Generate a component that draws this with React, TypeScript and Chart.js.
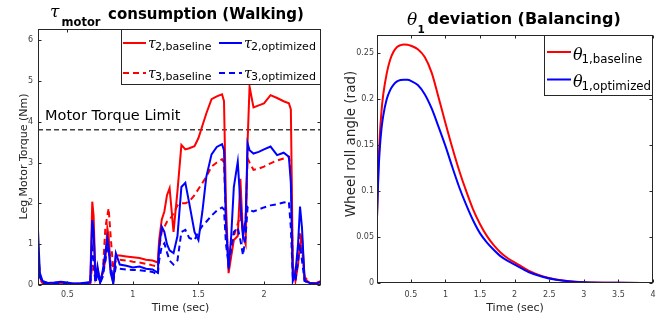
import React, { useEffect, useRef } from "react";
import { Chart, registerables } from "chart.js";

Chart.register(...registerables);

// ---------- Walking: leg motor torque ----------
const walkTimes = [
  0.276, 0.29, 0.31, 0.35, 0.4, 0.45, 0.5, 0.55, 0.6, 0.65,
  0.675, 0.69, 0.7, 0.715, 0.73, 0.75, 0.77, 0.79, 0.805, 0.815,
  0.83, 0.85, 0.87, 0.9, 0.95, 1.0, 1.05, 1.1, 1.15, 1.19,
  1.2, 1.22, 1.24, 1.26, 1.28, 1.31, 1.34, 1.37, 1.4, 1.43,
  1.47, 1.5, 1.53, 1.56, 1.6, 1.64, 1.68, 1.695, 1.71, 1.73,
  1.75, 1.77, 1.8, 1.82, 1.84, 1.86, 1.875, 1.89, 1.92, 1.96,
  2.0, 2.05, 2.1, 2.15, 2.19, 2.205, 2.22, 2.24, 2.26, 2.275,
  2.29, 2.31, 2.35, 2.4, 2.435,
];
const tau2Baseline = [
  0.82, 0.2, 0.08, 0.05, 0.05, 0.06, 0.04, 0.03, 0.03, 0.05,
  0.08, 2.04, 1.7, 0.2, 0.4, 0.1, 0.3, 0.6, 1.39, 1.2,
  0.4, 0.05, 0.72, 0.72, 0.7, 0.68, 0.66, 0.62, 0.6, 0.55,
  1.1, 1.6, 1.8, 2.2, 2.37, 1.3, 2.3, 3.43, 3.32, 3.35,
  3.4, 3.6, 3.9, 4.2, 4.55, 4.62, 4.67, 4.5, 2.0, 0.29,
  0.7, 1.1, 1.2, 2.6, 1.2, 1.0, 3.5, 4.86, 4.35, 4.4,
  4.45, 4.65, 4.58, 4.5, 4.45, 4.3, 0.5, 0.1, 0.5, 1.0,
  1.18, 0.15, 0.05, 0.05, 0.1,
];
const tau2Optimized = [
  1.35, 0.3, 0.1, 0.05, 0.06, 0.08, 0.06, 0.03, 0.04, 0.06,
  0.06, 1.59, 1.3, 0.1, 0.45, 0.05, 0.35, 0.8, 1.14, 0.9,
  0.3, 0.05, 0.78, 0.5, 0.47, 0.43, 0.45, 0.4, 0.38, 0.3,
  0.9, 1.43, 1.3, 1.0, 0.85, 0.78, 1.2, 2.4, 2.5, 2.0,
  1.3, 1.1, 1.8, 2.65, 3.2, 3.38, 3.45, 3.3, 1.5, 0.4,
  1.2, 2.4, 3.02, 2.0, 1.18, 1.6, 3.47, 3.3, 3.22, 3.26,
  3.32, 3.39, 3.18, 3.24, 3.14, 2.5, 0.1, 0.3, 1.0, 1.92,
  1.4, 0.1, 0.05, 0.03, 0.08,
];
const tau3Baseline = [
  0.6, 0.15, 0.05, 0.03, 0.03, 0.03, 0.03, 0.03, 0.03, 0.03,
  0.05, 0.5, 0.4, 0.1, 0.3, 0.1, 0.3, 1.4, 1.7, 1.88,
  1.2, 0.4, 0.6, 0.62, 0.6, 0.57, 0.55, 0.52, 0.48, 0.45,
  0.9, 1.3, 1.42, 1.55, 1.6, 1.75, 1.95, 2.0, 2.0, 2.05,
  2.2, 2.35, 2.5, 2.65, 2.9, 3.0, 3.08, 3.0, 1.5, 0.6,
  0.8, 1.2, 1.5, 1.7, 1.3, 1.6, 3.1, 3.0, 2.82, 2.85,
  2.9, 2.98, 3.05, 3.1, 3.14, 2.9, 0.4, 0.2, 0.8, 1.3,
  0.9, 0.2, 0.05, 0.03, 0.05,
];
const tau3Optimized = [
  1.0, 0.2, 0.05, 0.03, 0.03, 0.03, 0.03, 0.03, 0.03, 0.03,
  0.03, 0.9, 0.7, 0.05, 0.3, 0.05, 0.2, 0.6, 0.9, 0.94,
  0.5, 0.1, 0.45, 0.4, 0.38, 0.37, 0.36, 0.34, 0.32, 0.25,
  0.6, 0.95, 1.02, 0.8, 0.6, 0.5, 0.6, 1.3, 1.35, 1.15,
  1.1, 1.3, 1.45, 1.55, 1.7, 1.82, 1.9, 1.85, 1.0, 0.5,
  0.9, 1.3, 1.4, 1.1, 0.73, 1.2, 1.9, 1.84, 1.8, 1.85,
  1.9, 1.95, 1.98, 2.02, 2.04, 1.4, 0.2, 0.1, 0.6, 1.0,
  0.6, 0.1, 0.03, 0.02, 0.04,
];
const motorTorqueLimit = 3.8;
const walkXRange = [0.276, 2.435];
const walkYRange = [0, 6.27];
const walkXTicks = [0.5, 1, 1.5, 2];
const walkYTicks = [0, 1, 2, 3, 4, 5, 6];

// ---------- Balancing: wheel roll angle ----------
const balTimes = [
  0.01, 0.03, 0.05, 0.075, 0.1, 0.15, 0.2, 0.25, 0.3, 0.35,
  0.4, 0.45, 0.5, 0.6, 0.7, 0.8, 0.9, 1.0, 1.1, 1.2,
  1.3, 1.4, 1.5, 1.6, 1.7, 1.8, 1.9, 2.0, 2.2, 2.4,
  2.6, 2.8, 3.0, 3.5, 4.0,
];
const theta1Baseline = [
  0.072, 0.125, 0.16, 0.187, 0.205, 0.228, 0.243, 0.252, 0.257, 0.259,
  0.2597, 0.2595, 0.2583, 0.2545, 0.246, 0.229, 0.202, 0.174, 0.147, 0.122,
  0.1, 0.08, 0.064, 0.051, 0.041, 0.033, 0.027, 0.0225, 0.0135, 0.0075,
  0.0038, 0.0018, 0.0009, 0.0002, 0.0,
];
const theta1Optimized = [
  0.072, 0.118, 0.146, 0.168, 0.182, 0.2, 0.21, 0.216, 0.2195, 0.221,
  0.2213, 0.2212, 0.22, 0.2155, 0.2055, 0.19, 0.17, 0.149, 0.126, 0.104,
  0.085, 0.068, 0.054, 0.044, 0.036, 0.029, 0.024, 0.02, 0.012, 0.0068,
  0.0035, 0.0017, 0.0008, 0.0002, 0.0,
];
const balXRange = [0.01, 4];
const balYRange = [0, 0.27];
const balXTicks = [0.5, 1, 1.5, 2, 2.5, 3, 3.5, 4];
const balYTicks = [0, 0.05, 0.1, 0.15, 0.2, 0.25];

const RED = "#ff0000";
const BLUE = "#0000ff";
const AXIS = "#262626";
const SANS = '"DejaVu Sans", sans-serif';
const SERIF = '"DejaVu Serif", serif';

const pts = (xs: number[], ys: number[]) => xs.map((x, i) => ({ x, y: ys[i] }));

function put(ctx: CanvasRenderingContext2D, s: string, x: number, y: number, font: string, color = "#000", align: CanvasTextAlign = "left") {
  ctx.font = font;
  ctx.fillStyle = color;
  ctx.textAlign = align;
  ctx.textBaseline = "alphabetic";
  ctx.fillText(s, x, y);
}

function sample(ctx: CanvasRenderingContext2D, x0: number, x1: number, y: number, color: string, dash: number[]) {
  ctx.save();
  ctx.strokeStyle = color;
  ctx.lineWidth = 2;
  ctx.setLineDash(dash);
  ctx.beginPath();
  ctx.moveTo(x0, y);
  ctx.lineTo(x1, y);
  ctx.stroke();
  ctx.restore();
}

function makeDeco(extra: (chart: any) => void) {
  return {
    id: "deco",
    beforeDraw(chart: any) {
      const ctx = chart.ctx;
      ctx.save();
      ctx.fillStyle = "#fff";
      ctx.fillRect(0, 0, chart.width, chart.height);
      ctx.restore();
    },
    afterDraw(chart: any) {
      const { ctx, chartArea: a, scales } = chart;
      ctx.save();
      ctx.strokeStyle = AXIS;
      ctx.lineWidth = 1;
      ctx.setLineDash([]);
      const L = Math.round(a.left) + 0.5;
      const R = Math.round(a.right) - 0.5;
      const T = Math.round(a.top) + 0.5;
      const B = Math.round(a.bottom) - 0.5;
      const tl = 3;
      ctx.beginPath();
      for (const t of scales.x.ticks) {
        const p = Math.round(scales.x.getPixelForValue(t.value)) + 0.5;
        ctx.moveTo(p, B); ctx.lineTo(p, B - tl);
        ctx.moveTo(p, T); ctx.lineTo(p, T + tl);
      }
      for (const t of scales.y.ticks) {
        const p = Math.round(scales.y.getPixelForValue(t.value)) + 0.5;
        ctx.moveTo(L, p); ctx.lineTo(L + tl, p);
        ctx.moveTo(R, p); ctx.lineTo(R - tl, p);
      }
      ctx.stroke();
      ctx.strokeRect(L, T, R - L, B - T);
      ctx.restore();
      ctx.save();
      extra(chart);
      ctx.restore();
    },
  };
}

function axisCfg(range: number[], ticks: number[], padding: number, fit: (s: any) => void) {
  return {
    type: "linear" as const,
    min: range[0],
    max: range[1],
    grid: { display: false, drawTicks: false },
    border: { display: false },
    afterBuildTicks: (s: any) => { s.ticks = ticks.map((v) => ({ value: v })); },
    afterFit: fit,
    ticks: {
      autoSkip: false,
      maxRotation: 0,
      padding,
      color: "#404040",
      font: { family: "DejaVu Sans", size: 8 },
      callback: (v: any) => String(v),
    },
  };
}

function drawWalkExtras(chart: any) {
  const { ctx, chartArea: a, scales } = chart;
  put(ctx, "Motor Torque Limit", a.left + 7, scales.y.getPixelForValue(motorTorqueLimit) - 10, `14.5px ${SANS}`, "#000");
  // title
  put(ctx, "τ", 50, 17, `italic 17px ${SERIF}`, "#000");
  put(ctx, "motor", 61.5, 26, `bold 11.5px ${SANS}`, "#000");
  put(ctx, "consumption (Walking)", 108, 18.5, `bold 15px ${SANS}`, "#000");
  // axis titles
  put(ctx, "Time (sec)", (a.left + a.right) / 2 + 1, 311, `11px ${SANS}`, AXIS, "center");
  ctx.save();
  ctx.translate(26.5, 156.5);
  ctx.rotate(-Math.PI / 2);
  put(ctx, "Leg Motor Torque (Nm)", 0, 0, `11px ${SANS}`, AXIS, "center");
  ctx.restore();
  // legend
  ctx.fillStyle = "#fff";
  ctx.fillRect(121, 29, 200, 55);
  ctx.strokeStyle = AXIS;
  ctx.lineWidth = 1;
  ctx.strokeRect(121.5, 29.5, 199, 55);
  const entries = [
    { col: 0, row: 0, color: RED, dash: [], sub: "2,baseline" },
    { col: 1, row: 0, color: BLUE, dash: [], sub: "2,optimized" },
    { col: 0, row: 1, color: RED, dash: [6, 4], sub: "3,baseline" },
    { col: 1, row: 1, color: BLUE, dash: [6, 4], sub: "3,optimized" },
  ];
  for (const e of entries) {
    const x0 = e.col === 0 ? 123 : 219;
    const y = 43 + e.row * 30;
    sample(ctx, x0, x0 + 23, y, e.color, e.dash);
    put(ctx, "τ", x0 + 25, y + 4.5, `italic 14px ${SERIF}`, "#000");
    put(ctx, e.sub, x0 + 32, y + 7, `11px ${SANS}`, "#000");
  }
}

function drawBalExtras(chart: any) {
  const { ctx, chartArea: a } = chart;
  put(ctx, "θ", 75, 24.5, `italic 17px ${SERIF}`, "#000");
  put(ctx, "1", 85.5, 33, `bold 10.5px ${SANS}`, "#000");
  put(ctx, "deviation (Balancing)", 95.5, 24, `bold 16px ${SANS}`, "#000");
  put(ctx, "Time (sec)", (a.left + a.right) / 2, 310.5, `11px ${SANS}`, AXIS, "center");
  ctx.save();
  ctx.translate(23, 144);
  ctx.rotate(-Math.PI / 2);
  put(ctx, "Wheel roll angle (rad)", 0, 0, `13.5px ${SANS}`, AXIS, "center");
  ctx.restore();
  // legend
  ctx.fillStyle = "#fff";
  ctx.fillRect(212, 35, 109, 61);
  ctx.strokeStyle = AXIS;
  ctx.lineWidth = 1;
  ctx.strokeRect(212.5, 35.5, 108, 60);
  const entries = [
    { row: 0, color: RED, sub: "1,baseline" },
    { row: 1, color: BLUE, sub: "1,optimized" },
  ];
  for (const e of entries) {
    const y = 52 + e.row * 27.5;
    sample(ctx, 215, 239, y, e.color, []);
    put(ctx, "θ", 241, y + 7.5, `italic 16px ${SERIF}`, "#000");
    put(ctx, e.sub, 249.5, y + 10.5, `11.8px ${SANS}`, "#000");
  }
}

function line(label: string, data: any[], color: string, dash: number[], tension = 0, width = 2) {
  return {
    label,
    data,
    borderColor: color,
    backgroundColor: color,
    borderWidth: width,
    borderDash: dash,
    pointRadius: 0,
    tension,
    fill: false,
  };
}

export default function App() {
  const leftRef = useRef<HTMLCanvasElement>(null);
  const rightRef = useRef<HTMLCanvasElement>(null);

  useEffect(() => {
    const left = new Chart(leftRef.current as HTMLCanvasElement, {
      type: "line",
      data: {
        datasets: [
          line("τ3,optimized", pts(walkTimes, tau3Optimized), BLUE, [6, 4]),
          line("τ2,optimized", pts(walkTimes, tau2Optimized), BLUE, []),
          line("τ3,baseline", pts(walkTimes, tau3Baseline), RED, [6, 4]),
          line("τ2,baseline", pts(walkTimes, tau2Baseline), RED, []),
          line("Motor Torque Limit", pts(walkXRange, [motorTorqueLimit, motorTorqueLimit]), "#404040", [5, 3], 0, 1.5),
        ],
      },
      options: {
        responsive: false,
        animation: false,
        events: [],
        layout: { padding: { left: 0, top: 29, right: 11, bottom: 0 } },
        plugins: { legend: { display: false }, title: { display: false }, tooltip: { enabled: false } },
        scales: {
          x: axisCfg(walkXRange, walkXTicks, 5, (s: any) => { s.height = 37; }),
          y: axisCfg(walkYRange, walkYTicks, 5, (s: any) => { s.width = 38; }),
        },
      } as any,
      plugins: [makeDeco(drawWalkExtras)],
    });

    const right = new Chart(rightRef.current as HTMLCanvasElement, {
      type: "line",
      data: {
        datasets: [
          { ...line("θ1,optimized", pts(balTimes, theta1Optimized), BLUE, []), cubicInterpolationMode: "monotone" },
          { ...line("θ1,baseline", pts(balTimes, theta1Baseline), RED, []), cubicInterpolationMode: "monotone" },
        ],
      },
      options: {
        responsive: false,
        animation: false,
        events: [],
        layout: { padding: { left: 0, top: 35, right: 12, bottom: 0 } },
        plugins: { legend: { display: false }, title: { display: false }, tooltip: { enabled: false } },
        scales: {
          x: axisCfg(balXRange, balXTicks, 7, (s: any) => { s.height = 39; }),
          y: axisCfg(balYRange, balYTicks, 3, (s: any) => { s.width = 45; }),
        },
      } as any,
      plugins: [makeDeco(drawBalExtras)],
    });

    return () => {
      left.destroy();
      right.destroy();
    };
  }, []);

  return (
    <div style={{ position: "fixed", left: 0, top: 0, width: 665, height: 322, background: "#fff", overflow: "hidden" }}>
      <canvas ref={leftRef} width={332} height={322} style={{ position: "absolute", left: 0, top: 0, width: 332, height: 322 }} />
      <canvas ref={rightRef} width={333} height={322} style={{ position: "absolute", left: 332, top: 0, width: 333, height: 322 }} />
    </div>
  );
}
